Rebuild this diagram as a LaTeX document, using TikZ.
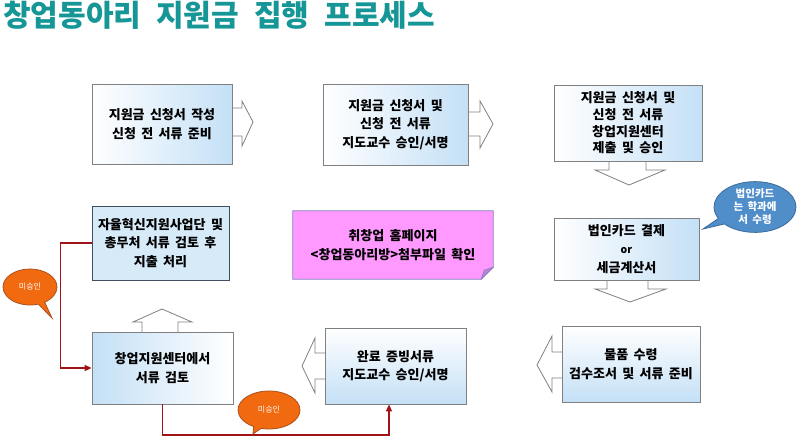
\documentclass[tikz,border=0pt]{standalone}
\usepackage{fontspec}
\setmainfont{Noto Sans CJK KR}[WordSpace=1.8]
\newfontfamily\titlefont{Noto Sans CJK KR}[WordSpace=2.2]
\usetikzlibrary{shapes.callouts,arrows.meta}
\definecolor{titleteal}{RGB}{22,150,150}
\definecolor{boxblue}{RGB}{196,224,246}
\definecolor{flatblue}{RGB}{214,234,248}
\definecolor{edgegray}{RGB}{128,128,128}
\definecolor{darkedge}{RGB}{64,79,95}
\definecolor{notepink}{RGB}{255,153,255}
\definecolor{noteedge}{RGB}{128,128,192}
\definecolor{notefold}{RGB}{196,130,214}
\definecolor{linered}{RGB}{160,20,24}
\definecolor{calblue}{RGB}{80,142,202}
\definecolor{calblueedge}{RGB}{58,106,154}
\definecolor{calorange}{RGB}{242,106,16}
\definecolor{calorangeedge}{RGB}{170,80,30}
\tikzset{
  procbox/.style={draw=edgegray, line width=0.8pt, inner sep=0pt, align=center,
    font=\bfseries\fontsize{13}{18.5}\selectfont},
  hgrad/.style={left color=white, right color=boxblue},
  rgrad/.style={left color=boxblue, right color=white},
  vgrad/.style={top color=white, bottom color=boxblue},
  arrowpart/.style={draw=edgegray, fill=white, line width=0.8pt},
  redline/.style={draw=linered, line width=1.6pt},
  bluecall/.style={ellipse callout, fill=calblue, draw=calblueedge, line width=0.8pt,
    inner sep=0pt, align=center, text=white, font=\bfseries\fontsize{10.5}{13}\selectfont},
  orangecall/.style={ellipse callout, fill=calorange, draw=calorangeedge, line width=0.8pt,
    inner sep=0pt, align=center, text=white, font=\fontsize{8}{9}\selectfont}
}
\begin{document}
\begin{tikzpicture}[x=1pt,y=-1pt]
\useasboundingbox (0,0) rectangle (800,444);
\fill[white] (0,0) rectangle (800,444);

% title
\node[anchor=base west, inner sep=0pt, text=titleteal,
  font=\titlefont\bfseries\fontsize{30}{32}\selectfont] (title) at (3,27) {창업동아리 지원금 집행 프로세스};

% arrow parts (drawn first, boxes on top)
\path[arrowpart] (232,108) -- (242,108) -- (242,101) -- (253,122) -- (242,146) -- (242,136) -- (232,136);
\path[arrowpart] (468,112) -- (480,112) -- (480,101) -- (493,124) -- (480,148) -- (480,136) -- (468,136);
\path[arrowpart] (609,161) -- (609,170) -- (595,170) -- (629,185) -- (665,170) -- (646,170) -- (646,161);
\path[arrowpart] (607,280) -- (607,289) -- (595,289) -- (630,302) -- (666,289) -- (648,289) -- (648,280);
\path[arrowpart] (562,352) -- (552,352) -- (552,336) -- (537,365) -- (552,392) -- (552,378) -- (562,378);
\path[arrowpart] (325,353) -- (315,353) -- (315,338) -- (302,366) -- (315,393) -- (315,379) -- (325,379);
\path[arrowpart] (142,332) -- (142,322) -- (133,322) -- (162,309) -- (192,322) -- (178,322) -- (178,332);

% boxes
\node[procbox, hgrad, minimum width=140pt, minimum height=80pt] (b1) at (162,124)
  {지원금 신청서 작성\\신청 전 서류 준비};
\node[procbox, hgrad, minimum width=145pt, minimum height=81pt] (b2) at (395.5,124.5)
  {지원금 신청서 및\\신청 전 서류\\지도교수 승인/서명};
\node[procbox, hgrad, minimum width=148pt, minimum height=76pt,
  font=\bfseries\fontsize{13}{16.7}\selectfont] (b3) at (628,123)
  {지원금 신청서 및\\신청 전 서류\\창업지원센터\\제출 및 승인};
\node[procbox, hgrad, minimum width=145pt, minimum height=62pt] (b4) at (626.5,249)
  {법인카드 결제\\{\fontsize{10.5}{12}\selectfont or}\\세금계산서};
\node[procbox, vgrad, minimum width=138pt, minimum height=76pt] (b8) at (631,364)
  {물품 수령\\검수조서 및 서류 준비};
\node[procbox, vgrad, minimum width=141pt, minimum height=76pt] (b7) at (395.5,366)
  {완료 증빙서류\\지도교수 승인/서명};
\node[procbox, rgrad, minimum width=141pt, minimum height=72pt] (b6) at (162.5,368)
  {창업지원센터에서\\서류 검토};
\node[procbox, draw=darkedge, fill=flatblue, minimum width=137pt, minimum height=74pt] (b5) at (160.5,243)
  {자율혁신지원사업단 및\\총무처 서류 검토 후\\지출 처리};

% pink note
\node[inner sep=0pt, minimum width=200pt, minimum height=68pt] (note) at (393,245) {};
\draw[fill=notepink, draw=noteedge, line width=0.8pt]
  (note.north west) -- (note.north east) -- ([yshift=12pt]note.south east)
  -- ([xshift=-12pt]note.south east) -- (note.south west) -- cycle;
\draw[fill=notefold, draw=noteedge, line width=0.6pt]
  ([yshift=12pt]note.south east) -- ([xshift=-12pt]note.south east)
  -- ([xshift=-9pt,yshift=9pt]note.south east) -- cycle;
\node[align=center, font=\bfseries\fontsize{13}{18.5}\selectfont] (notetext) at (note.center)
  {취창업 홈페이지\\<창업동아리방>첨부파일 확인};

% red connectors
\draw[redline, -{Triangle[length=7pt,width=6pt]}] (b5.west) -- ++(-31,0) |- (b6.west);
\draw[redline, -{Triangle[length=7pt,width=6pt]}] (b6.south) -- (b6.south |- 0,435) -| ([xshift=-6.5pt]b7.south);

% callouts
\coordinate (tipblue) at (703,229);
\node[bluecall, minimum width=82pt, minimum height=50pt, callout absolute pointer=(tipblue)] (cardnote) at (755,207)
  {법인카드\\는 학과에\\서 수령};
\coordinate (tiporange1) at (52,318);
\node[orangecall, minimum width=54pt, minimum height=36pt, callout absolute pointer=(tiporange1)] (reject1) at (30,287)
  {미승인};
\coordinate (tiporange2) at (253,434);
\node[orangecall, minimum width=62pt, minimum height=38pt, callout absolute pointer=(tiporange2)] (reject2) at (269,410)
  {미승인};
\end{tikzpicture}
\end{document}
